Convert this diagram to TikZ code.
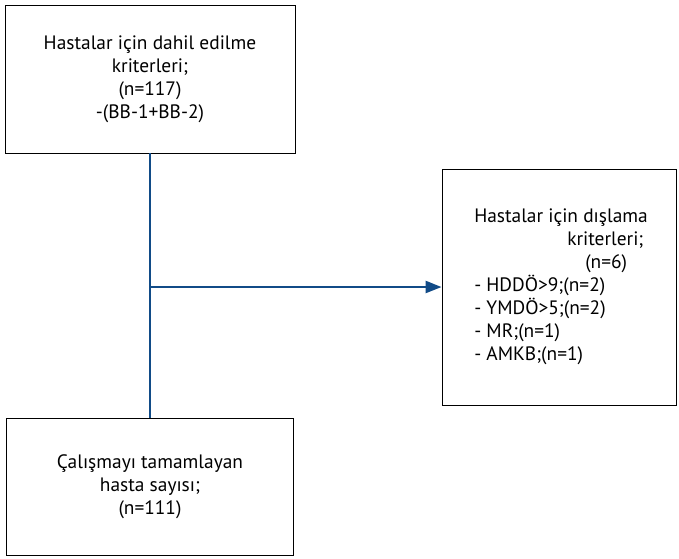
\documentclass[tikz,border=0pt]{standalone}
\usepackage{fontspec}
\setmainfont{PT Sans}
\usetikzlibrary{arrows.meta}
\definecolor{akismavi}{RGB}{17,75,135}
\begin{document}
\begin{tikzpicture}[x=1pt, y=-1pt, >={Triangle[length=16pt,width=12pt]},
    kutu/.style={draw, line width=0.9pt, inner sep=0pt, font=\fontsize{19.4}{23}\selectfont},
    hat/.style={draw=akismavi, line width=2.4pt}]
    \useasboundingbox (0,0) rectangle (679,558);
    \node[kutu, align=center, minimum width=290pt, minimum height=148pt] (dahil) at (150,79)
        {Hastalar için dahil edilme\\kriterleri;\\(n=117)\\-(BB-1+BB-2)};
    \node[kutu, align=center, minimum width=287pt, minimum height=137pt] (tamam) at (150,486.5)
        {Çalışmayı tamamlayan\\hasta sayısı;\\(n=111)};
    \node[kutu, align=left, minimum width=234pt, minimum height=236pt] (dislama) at (559,287)
        {\hspace*{4pt}Hastalar için dışlama\\\hspace*{97pt}kriterleri;\\\hspace*{115pt}(n=6)\\\hspace*{4pt}- HDDÖ>9;(n=2)\\\hspace*{4pt}- YMDÖ>5;(n=2)\\\hspace*{4pt}- MR;(n=1)\\\hspace*{4pt}- AMKB;(n=1)};
    \coordinate (kol) at (dahil.south |- dislama.west);
    \draw[hat] (dahil.south) -- (dahil.south |- tamam.north);
    \draw[hat, ->] (kol) -- (dislama.west);
\end{tikzpicture}
\end{document}
